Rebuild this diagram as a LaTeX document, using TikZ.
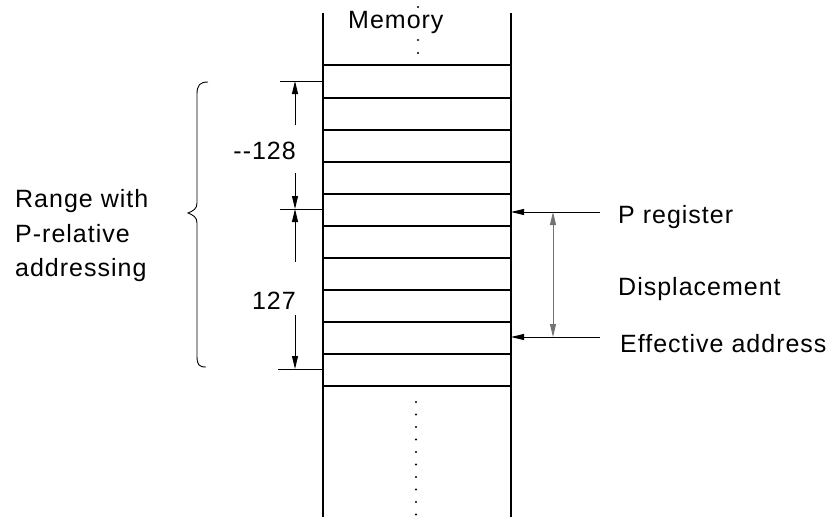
\documentclass[tikz,border=0pt]{standalone}
\usepackage{fontspec}
\setmainfont{Liberation Sans}[LetterSpace=4]
\usetikzlibrary{arrows.meta}
\begin{document}
\begin{tikzpicture}[x=1pt,y=-1pt,
  txt/.style={inner sep=0pt, font=\fontsize{25}{30}\selectfont},
  wall/.style={line width=1.4pt},
  rowline/.style={line width=1.2pt},
  thin/.style={line width=0.9pt},
  tip/.style={line width=0.9pt, -{Triangle[length=13pt,width=6pt]}},
  dtip/.style={line width=1pt, draw=black!55, {Triangle[length=13pt,width=6pt]}-{Triangle[length=13pt,width=6pt]}},
  dot/.style={fill=black}]
\useasboundingbox (0,0) rectangle (831,517);

% memory column
\coordinate (cl) at (323,13);
\coordinate (cr) at (511,13);
\draw[wall] (cl) -- (323,517);
\draw[wall] (cr) -- (511,517);
\foreach \y in {65,98,130,162,194,226,258,290,322,354,386}
  \draw[rowline] (323,\y) -- (511,\y);

\node[txt, anchor=base west] (mem) at (348,28) {Memory};
\foreach \y in {7,40,53} \fill[dot] (418,\y) circle (1.1);
\foreach \i in {0,...,9} \fill[dot] (416,402+12.5*\i) circle (1.1);

% range ticks
\coordinate (t1) at (295,81);
\coordinate (t2) at (295,209);
\coordinate (t3) at (295,369);
\draw[thin] (280,81) -- (323,81);
\draw[thin] (280,209) -- (323,209);
\draw[thin] (278,369) -- (323,369);

\node[txt, anchor=base east] (m128) at (296,159) {-{}-128};
\node[txt, anchor=base east] (p127) at (296,309) {127};
\coordinate (a1) at (295,125);
\coordinate (a2) at (295,173);
\coordinate (a3) at (295,262);
\coordinate (a4) at (295,315);
\draw[tip] (a1) -- (t1);
\draw[tip] (a2) -- (t2);
\draw[tip] (a3) -- (t2);
\draw[tip] (a4) -- (t3);

% brace
\draw[thin] (208,82) .. controls (200,82) and (197,85) .. (197,94) -- (197,203)
  .. controls (197,209) and (193,211) .. (188,213)
  .. controls (193,215) and (197,217) .. (197,223) -- (197,356)
  .. controls (197,365) and (199,367) .. (206,367);

\node[txt, anchor=base west] (rw) at (15,207) {Range with};
\node[txt, anchor=base west] (pr) at (15,242) {P-relative};
\node[txt, anchor=base west] (ad) at (15,276) {addressing};

% right side
\coordinate (pe) at (600,212);
\coordinate (pc) at (511,212);
\coordinate (ee) at (600,337);
\coordinate (ec) at (511,337);
\draw[tip] (pe) -- (pc);
\draw[tip] (ee) -- (ec);
\draw[dtip] (553,212) -- (553,337);

\node[txt, anchor=base west] (preg) at (618,223) {P register};
\node[txt, anchor=base west] (disp) at (618,295) {Displacement};
\node[txt, anchor=base west] (eff) at (620,352) {Effective address};
\end{tikzpicture}
\end{document}
